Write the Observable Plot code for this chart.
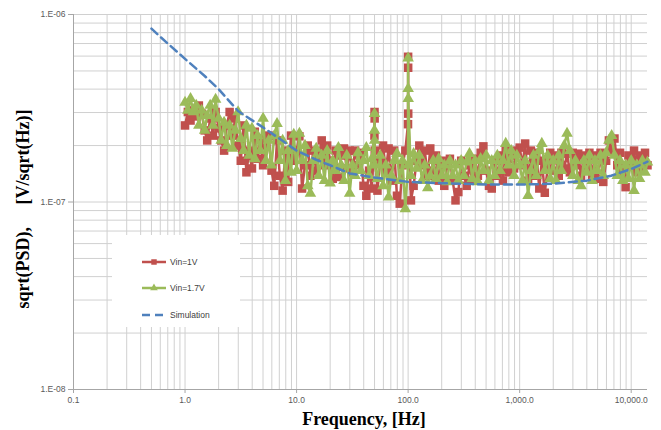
<!DOCTYPE html>
<html><head><meta charset="utf-8">
<script src="https://cdn.jsdelivr.net/npm/d3@7"></script>
<script src="https://cdn.jsdelivr.net/npm/@observablehq/plot@0.6"></script>
<style>
body{margin:0;background:#fff;}
#wrap{position:relative;width:661px;height:430px;}
</style></head><body><div id="wrap"></div>
<script>
// ---- data ----
// frequencies (Hz) shared by both measured series
const freq = [
 1.00,1.06,1.12,1.19,1.26,1.33,1.41,1.50,1.58,1.68,1.78,1.88,2.00,2.11,2.24,2.37,2.51,2.66,2.82,2.99,3.16,3.35,3.55,3.76,3.98,4.22,4.47,4.73,5.01,5.31,5.62,5.96,6.31,6.68,7.08,7.50,7.94,8.41,8.91,9.44,
 10.0,10.6,11.2,11.9,12.6,13.3,14.1,15.0,15.8,16.8,17.8,18.8,20.0,21.1,22.4,23.7,25.1,26.6,28.2,29.9,31.6,33.5,35.5,37.6,39.8,42.2,44.7,47.3,49.9,50.0,50.1,50.2,53.1,56.2,59.6,63.1,66.8,70.8,75.0,79.4,84.1,89.1,94.4,99.8,100.0,100.1,100.2,
 106,112,119,126,133,141,150,158,168,178,188,200,211,224,237,251,266,282,299,316,335,355,376,398,422,447,473,501,531,562,596,631,668,708,750,794,841,891,944,
 1000,1060,1120,1190,1260,1330,1410,1500,1580,1680,1780,1880,2000,2110,2240,2370,2510,2660,2820,2990,3160,3350,3550,3760,3980,4220,4470,4730,5010,5310,5620,5960,6310,6680,7080,7500,7940,8410,8910,9440,
 10000,10600,11200,11900,12600,13300,14000];
// sqrt(PSD) in units of 1e-7 V/sqrt(Hz)
const psdV1 = [
 2.56,3.02,2.72,3.08,2.86,3.27,2.96,2.41,2.13,2.79,2.26,3.02,2.47,2.13,1.88,2.56,3.02,2.26,2.79,2.00,1.66,2.56,1.44,1.88,1.51,2.37,1.70,2.18,1.57,2.00,2.26,1.47,1.22,2.13,1.38,1.15,1.88,1.28,2.26,1.66,
 1.88,2.24,1.18,1.57,2.00,1.38,1.88,1.47,1.77,2.13,1.57,2.00,1.66,1.33,1.88,1.36,1.77,1.93,1.51,1.88,1.44,1.88,1.57,1.83,1.22,1.08,1.47,1.18,2.26,3.02,2.79,1.88,1.15,1.66,2.00,1.47,1.93,1.30,1.88,1.08,0.98,1.57,1.88,2.60,5.95,5.20,2.96,
 1.02,1.22,1.66,2.00,1.57,1.88,1.38,1.93,1.47,1.77,1.30,1.66,1.22,1.57,1.70,1.30,1.02,1.13,1.66,1.38,1.22,1.57,1.30,1.70,1.38,1.83,1.98,1.47,1.22,1.18,1.66,1.38,1.77,1.30,1.88,1.44,1.77,1.51,1.88,
 1.95,1.57,2.05,1.30,1.88,1.38,1.83,1.18,1.66,1.12,1.51,1.83,1.47,1.77,1.38,1.83,1.51,1.81,1.44,1.83,1.57,1.81,1.38,1.77,1.51,1.83,1.38,1.77,1.33,1.83,1.28,1.66,2.13,1.88,2.18,1.57,1.83,1.44,1.20,1.77,
 1.57,1.88,1.44,1.77,1.51,1.83,1.57];
const psdV17 = [
 3.40,3.08,3.56,3.02,3.27,2.56,3.08,2.41,2.89,3.27,2.56,3.52,2.79,2.13,2.66,2.00,2.56,1.93,2.41,3.02,2.18,1.88,2.56,1.77,2.47,1.70,2.26,1.88,2.79,1.66,2.13,1.57,2.26,2.62,1.66,2.13,1.30,1.88,1.44,2.29,
 1.47,2.32,1.66,2.00,1.22,1.11,1.66,1.93,1.38,1.77,1.30,1.88,1.26,1.66,1.47,1.95,1.57,1.30,1.77,1.11,1.57,1.38,1.83,1.47,1.66,1.95,1.38,1.70,2.41,2.96,2.13,1.57,1.33,1.77,1.22,1.57,1.06,1.38,1.66,1.81,1.30,1.66,0.92,1.57,5.85,4.02,3.56,
 1.38,1.81,1.51,1.77,1.30,1.57,1.19,1.38,1.66,1.33,1.70,1.38,1.57,1.28,1.66,1.38,1.57,1.30,1.66,1.38,1.63,1.81,1.33,1.66,1.28,1.70,1.47,1.77,1.30,1.66,1.38,1.77,1.47,1.66,2.05,1.57,1.88,1.38,1.77,
 1.57,1.30,1.66,1.08,1.47,1.77,1.38,1.88,2.05,1.47,1.77,1.33,1.66,1.30,1.77,1.47,2.00,2.32,1.88,1.38,1.66,1.30,1.22,1.66,1.44,1.77,1.30,1.66,1.47,1.77,1.38,1.83,2.13,2.26,1.77,1.38,1.66,1.30,1.57,1.33,
 1.66,1.15,1.57,1.33,1.66,1.44,1.63];
const psdUnit = 1e-7;

const simFreq = [0.5,0.7,1,1.5,2,3,5,7,10,15,20,30,50,100,200,500,1000,2000,4000,6600,10000,14000];
const simPsd  = [8.4e-7,7.0e-7,5.8e-7,4.7e-7,4.0e-7,3.05e-7,2.5e-7,2.18e-7,1.88e-7,1.68e-7,1.57e-7,1.42e-7,1.35e-7,1.28e-7,1.26e-7,1.24e-7,1.24e-7,1.25e-7,1.30e-7,1.38e-7,1.50e-7,1.64e-7];

const xTicks = [0.1,1,10,100,1000,10000];
const xTickLabels = ["0.1","1.0","10.0","100.0","1,000.0","10,000.0"];
const yTicks = [1e-8,1e-7,1e-6];
const yTickLabels = ["1.E-08","1.E-07","1.E-06"];
const seriesNames = ["Vin=1V","Vin=1.7V","Simulation"];
const seriesColors = ["#C0504D","#9BBB59","#4F81BD"];
const xTitle = "Frequency, [Hz]";
const yTitle = "sqrt(PSD),     [V/sqrt(Hz)]";

// ---- build ----
const xDomain = [0.1, 14000], yDomain = [1e-8, 1e-6];
const v1 = freq.map((f,i)=>({f, v: psdV1[i]*psdUnit}));
const v17 = freq.map((f,i)=>({f, v: psdV17[i]*psdUnit}));
const sim = simFreq.map((f,i)=>({f, v: simPsd[i]}));
const gridX = [], gridY = [];
for (let e=-1;e<=4;e++) for (let j=1;j<=9;j++){const v=+(j*Math.pow(10,e)).toPrecision(3); if (v<=xDomain[1]) gridX.push(v);}
for (let e=-8;e<=-7;e++) for (let j=1;j<=9;j++) gridY.push(+(j*Math.pow(10,e)).toPrecision(3));
gridY.push(1e-6);
const lab = (ticks, labels) => d => labels[ticks.findIndex(t => Math.abs(t-d)/t < 1e-6)];

const W=661,H=430,mL=73,mR=14,mT=14,mB=41;
const chart = Plot.plot({
  width:W, height:H, marginLeft:mL, marginRight:mR, marginTop:mT, marginBottom:mB,
  style:{fontFamily:'"Liberation Sans", sans-serif', fontSize:"8.5px", color:"#595959", background:"#fff", overflow:"visible"},
  x:{type:"log", domain:xDomain},
  y:{type:"log", domain:yDomain},
  marks:[
    Plot.ruleX(gridX, {stroke:"#d0d0d0", strokeWidth:1}),
    Plot.ruleY(gridY, {stroke:"#d0d0d0", strokeWidth:1}),
    Plot.ruleX([xDomain[0]], {stroke:"#a6a6a6"}),
    Plot.ruleY([yDomain[0]], {stroke:"#a6a6a6"}),
    Plot.axisX({ticks:xTicks, tickFormat:lab(xTicks,xTickLabels), tickSize:4, tickPadding:3, label:null, stroke:"#a6a6a6"}),
    Plot.axisY({ticks:yTicks, tickFormat:lab(yTicks,yTickLabels), tickSize:5, tickPadding:3, label:null, stroke:"#a6a6a6"}),
    Plot.line(v1, {x:"f", y:"v", stroke:seriesColors[0], strokeWidth:2.5}),
    Plot.dot(v1, {x:"f", y:"v", symbol:"square", r:4.8, fill:seriesColors[0], stroke:null}),
    Plot.line(v17, {x:"f", y:"v", stroke:seriesColors[1], strokeWidth:2.5}),
    Plot.dot(v17, {x:"f", y:"v", symbol:"triangle", r:4.3, fill:seriesColors[1], stroke:null}),
    Plot.line(sim, {x:"f", y:"v", stroke:seriesColors[2], strokeWidth:2.5, strokeDasharray:"8,5"})
  ]
});
document.getElementById("wrap").appendChild(chart);

const svg = d3.select(chart);
// axis titles
svg.append("text").attr("x", 364).attr("y", 425)
  .attr("text-anchor","middle").attr("font-family",'"Liberation Serif", serif')
  .attr("font-weight","bold").attr("font-size","18px").attr("fill","#000").text(xTitle);
svg.append("text").attr("transform","translate(29,209) rotate(-90)")
  .attr("text-anchor","middle").attr("font-family",'"Liberation Serif", serif')
  .attr("font-weight","bold").attr("font-size","18px").attr("fill","#000")
  .style("white-space","pre").attr("xml:space","preserve").text(yTitle);

// legend (inside plot area, white box)
const lg = svg.append("g");
lg.append("rect").attr("x",112).attr("y",235).attr("width",128).attr("height",92).attr("fill","#fff");
const rows = [262, 288, 315];
seriesNames.forEach((name,i)=>{
  const y = rows[i];
  const line = lg.append("line").attr("x1",142).attr("x2",166).attr("y1",y).attr("y2",y)
    .attr("stroke",seriesColors[i]).attr("stroke-width",2.5);
  if (i===2) line.attr("stroke-dasharray","8,5");
  if (i===0) lg.append("path").attr("d", d3.symbol(d3.symbolSquare, 30)()).attr("transform",`translate(154,${y})`).attr("fill",seriesColors[i]);
  if (i===1) lg.append("path").attr("d", d3.symbol(d3.symbolTriangle, 25)()).attr("transform",`translate(154,${y})`).attr("fill",seriesColors[i]);
  lg.append("text").attr("x",170).attr("y",y).attr("dy","0.35em").attr("text-anchor","start")
    .attr("font-family",'"Liberation Sans", sans-serif').attr("font-size","8.5px").attr("fill","#404040").text(name);
});
</script></body></html>
